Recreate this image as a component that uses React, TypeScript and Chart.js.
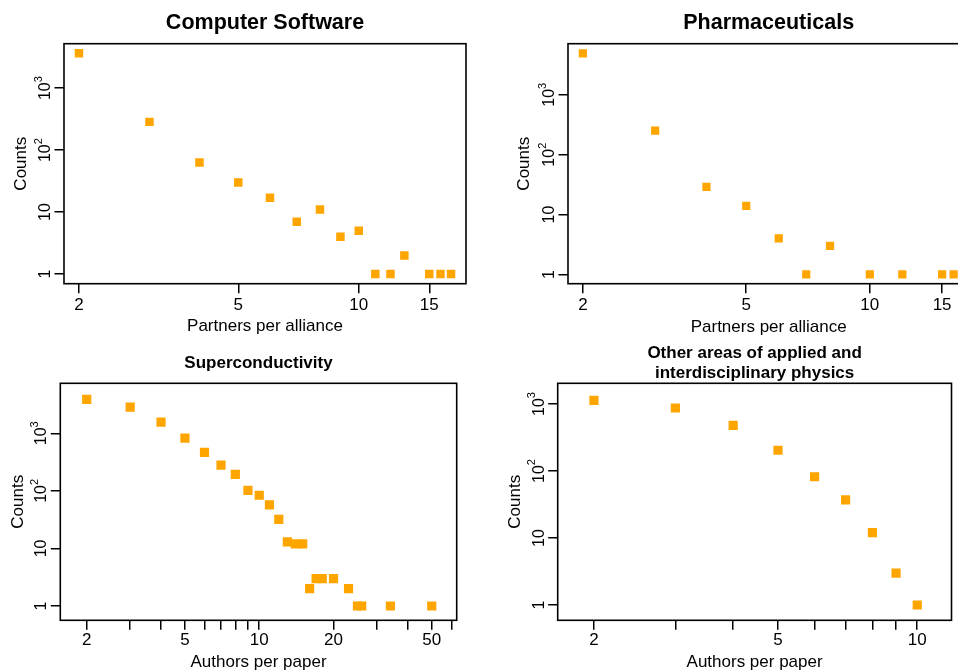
import React, { useEffect, useRef } from 'react';
import { Chart, registerables } from 'chart.js';
Chart.register(...registerables);

const FONT = "'Liberation Sans', Arial, Helvetica, sans-serif";
Chart.defaults.font.family = FONT;
Chart.defaults.color = '#000';

// ---------- data ----------
const softwarePartners = [2, 3, 4, 5, 6, 7, 8, 9, 10, 11, 12, 13, 15, 16, 17];
const softwareCounts = [3650, 285, 63, 30, 17, 7, 11, 4, 5, 1, 1, 2, 1, 1, 1];

const pharmaPartners = [2, 3, 4, 5, 6, 7, 8, 10, 12, 15, 16];
const pharmaCounts = [4940, 252, 29, 14, 4, 1, 3, 1, 1, 1, 1];

const supercondAuthors = [2, 3, 4, 5, 6, 7, 8, 9, 10, 11, 12, 13, 14, 15, 16, 17, 18, 20, 23, 25, 26, 34, 50];
const supercondCounts = [3880, 2850, 1565, 826, 466, 280, 193, 102, 84, 57, 32, 13, 12, 12, 2, 3, 3, 3, 2, 1, 1, 1, 1];

const otherAuthors = [2, 3, 4, 5, 6, 7, 8, 9, 10];
const otherCounts = [1135, 871, 481, 204, 82, 37, 12, 3, 1];

const yTickValues = [1, 10, 100, 1000];
const allianceTickValues = [2, 5, 10, 15];
const allianceTickLabels = ['2', '5', '10', '15'];
const supercondTickValues = [2, 3, 4, 5, 6, 7, 8, 9, 10, 20, 30, 40, 50, 60];
const supercondTickLabels = ['2', '', '', '5', '', '', '', '', '10', '20', '', '', '50', ''];
const otherTickValues = [2, 3, 4, 5, 6, 7, 8, 9, 10];
const otherTickLabels = ['2', '', '', '5', '', '', '', '', '10'];

const TICK = 9.5;

const boxPlugin = {
  id: 'rbox',
  afterDraw(chart: any) {
    const { left, top, right, bottom } = chart.chartArea;
    const ctx = chart.ctx;
    ctx.save();
    ctx.strokeStyle = '#000';
    ctx.lineWidth = 1.6;
    ctx.strokeRect(left, top, right - left, bottom - top);
    ctx.restore();
  },
};

const yLabelPlugin = {
  id: 'ylabels',
  afterDraw(chart: any) {
    const s = chart.scales.y;
    const ctx = chart.ctx;
    const x = chart.chartArea.left - TICK - 4.5;
    ctx.save();
    ctx.fillStyle = '#000';
    ctx.textBaseline = 'alphabetic';
    ctx.textAlign = 'left';
    for (const v of yTickValues) {
      const y = s.getPixelForValue(v);
      const exp = Math.round(Math.log10(v));
      ctx.save();
      ctx.translate(x, y);
      ctx.rotate(-Math.PI / 2);
      if (exp >= 2) {
        ctx.font = `16px ${FONT}`;
        const w1 = ctx.measureText('10').width;
        ctx.font = `11px ${FONT}`;
        const w2 = ctx.measureText(String(exp)).width;
        const start = -(w1 + w2) / 2;
        ctx.font = `16px ${FONT}`;
        ctx.fillText('10', start, 0);
        ctx.font = `11px ${FONT}`;
        ctx.fillText(String(exp), start + w1, -8.5);
      } else {
        ctx.font = `16px ${FONT}`;
        const label = String(v);
        const w = ctx.measureText(label).width;
        ctx.fillText(label, -w / 2, 0);
      }
      ctx.restore();
    }
    ctx.restore();
  },
};

type PanelCfg = {
  left: number; top: number; width: number; height: number;
  title: string | string[]; titleSize: number; titleLH: number; titlePadTop: number; titlePadBottom: number;
  yWidth: number; yTitlePad: number;
  xHeight: number; xTickPad: number; xTitle: string; xTitlePadBottom: number;
  padRight: number;
  xMin: number; xMax: number; yMin: number; yMax: number;
  pointRadius: number;
  xs: number[]; ys: number[]; xTicks: number[]; xLabels: string[];
};

const panels: PanelCfg[] = [
  {
    left: 0, top: 0, width: 479, height: 340,
    title: 'Computer Software', titleSize: 21.5, titleLH: 1.2, titlePadTop: 10.1, titlePadBottom: 7.8,
    yWidth: 64, yTitlePad: 10.8,
    xHeight: 56.3, xTickPad: 1.5, xTitle: 'Partners per alliance', xTitlePadBottom: 3.1,
    padRight: 13,
    xMin: 1.835, xMax: 18.53, yMin: 0.733, yMax: 5196,
    pointRadius: 6,
    xs: softwarePartners, ys: softwareCounts, xTicks: allianceTickValues, xLabels: allianceTickLabels,
  },
  {
    left: 480, top: 0, width: 500, height: 340,
    title: 'Pharmaceuticals', titleSize: 21.5, titleLH: 1.2, titlePadTop: 10.1, titlePadBottom: 7.8,
    yWidth: 88, yTitlePad: 34.3,
    xHeight: 56.3, xTickPad: 1.5, xTitle: 'Partners per alliance', xTitlePadBottom: 2.0,
    padRight: 10.7,
    xMin: 1.84, xMax: 17.47, yMin: 0.724, yMax: 7140,
    pointRadius: 5.8,
    xs: pharmaPartners, ys: pharmaCounts, xTicks: allianceTickValues, xLabels: allianceTickLabels,
  },
  {
    left: 0, top: 340, width: 479, height: 340,
    title: 'Superconductivity', titleSize: 17, titleLH: 1.2, titlePadTop: 13.1, titlePadBottom: 9.8,
    yWidth: 60.3, yTitlePad: 8.1,
    xHeight: 59.7, xTickPad: 0.5, xTitle: 'Authors per paper', xTitlePadBottom: 7.1,
    padRight: 22.3,
    xMin: 1.563, xMax: 63.1, yMin: 0.565, yMax: 7385,
    pointRadius: 6.5,
    xs: supercondAuthors, ys: supercondCounts, xTicks: supercondTickValues, xLabels: supercondTickLabels,
  },
  {
    left: 480, top: 340, width: 478, height: 340,
    title: ['Other areas of applied and', 'interdisciplinary physics'], titleSize: 17, titleLH: 20 / 17, titlePadTop: 3.3, titlePadBottom: 0,
    yWidth: 77.7, yTitlePad: 25.3,
    xHeight: 59.7, xTickPad: 0.5, xTitle: 'Authors per paper', xTitlePadBottom: 7.1,
    padRight: 4.3,
    xMin: 1.67, xMax: 11.86, yMin: 0.591, yMax: 2037,
    pointRadius: 6.5,
    xs: otherAuthors, ys: otherCounts, xTicks: otherTickValues, xLabels: otherTickLabels,
  },
];

function Panel({ cfg }: { cfg: PanelCfg }) {
  const ref = useRef<HTMLCanvasElement | null>(null);
  useEffect(() => {
    if (!ref.current) return;
    const chart = new Chart(ref.current, {
      type: 'scatter',
      data: {
        datasets: [
          {
            data: cfg.xs.map((x, i) => ({ x, y: cfg.ys[i] })),
            pointStyle: 'rect',
            pointRadius: cfg.pointRadius,
            pointHoverRadius: cfg.pointRadius,
            backgroundColor: '#FFA500',
            borderWidth: 0,
          },
        ],
      },
      options: {
        responsive: false,
        animation: false,
        events: [],
        layout: { padding: { left: 0, top: 0, bottom: 0, right: cfg.padRight } },
        plugins: {
          legend: { display: false },
          tooltip: { enabled: false },
          title: {
            display: true,
            text: cfg.title,
            fullSize: false,
            color: '#000',
            font: { family: FONT, size: cfg.titleSize, weight: 'bold', lineHeight: cfg.titleLH },
            padding: { top: cfg.titlePadTop, bottom: cfg.titlePadBottom },
          },
        },
        scales: {
          x: {
            type: 'logarithmic',
            position: 'bottom',
            min: cfg.xMin,
            max: cfg.xMax,
            border: { display: false },
            grid: { drawOnChartArea: false, drawTicks: true, tickLength: TICK, color: '#000', lineWidth: 1.5 },
            ticks: {
              autoSkip: false,
              maxRotation: 0,
              minRotation: 0,
              padding: cfg.xTickPad,
              color: '#000',
              font: { family: FONT, size: 17 },
              callback: (_v: any, i: number) => cfg.xLabels[i],
            },
            afterBuildTicks: (s: any) => {
              s.ticks = cfg.xTicks.map((v) => ({ value: v }));
            },
            afterFit: (s: any) => {
              s.height = cfg.xHeight;
            },
            title: {
              display: true,
              text: cfg.xTitle,
              color: '#000',
              font: { family: FONT, size: 17, lineHeight: 1.2 },
              padding: { top: 0, bottom: cfg.xTitlePadBottom },
            },
          },
          y: {
            type: 'logarithmic',
            position: 'left',
            min: cfg.yMin,
            max: cfg.yMax,
            border: { display: false },
            grid: { drawOnChartArea: false, drawTicks: true, tickLength: TICK, color: '#000', lineWidth: 1.5 },
            ticks: { display: false },
            afterBuildTicks: (s: any) => {
              s.ticks = yTickValues.map((v) => ({ value: v }));
            },
            afterFit: (s: any) => {
              s.width = cfg.yWidth;
            },
            title: {
              display: true,
              text: 'Counts',
              color: '#000',
              font: { family: FONT, size: 17, lineHeight: 1.2 },
              padding: { top: cfg.yTitlePad, bottom: 0 },
            },
          },
        },
      } as any,
      plugins: [boxPlugin, yLabelPlugin],
    });
    return () => chart.destroy();
  }, [cfg]);
  return (
    <canvas
      ref={ref}
      width={cfg.width}
      height={cfg.height}
      style={{ position: 'absolute', left: cfg.left, top: cfg.top, width: cfg.width, height: cfg.height }}
    />
  );
}

export default function App() {
  return (
    <div
      style={{
        position: 'absolute',
        left: 0,
        top: 0,
        width: 958,
        height: 671,
        overflow: 'hidden',
        background: '#fff',
      }}
    >
      {panels.map((p, i) => (
        <Panel key={i} cfg={p} />
      ))}
    </div>
  );
}
